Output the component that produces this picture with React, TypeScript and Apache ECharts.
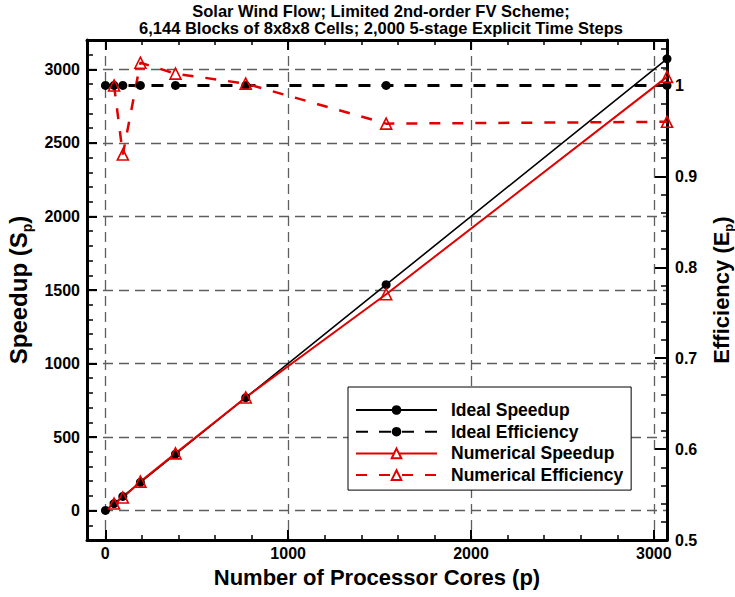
import React, { useEffect, useRef } from "react";
import * as echarts from "echarts";

const FONT = '"Liberation Sans", Arial, Helvetica, sans-serif';

// Processor counts and measured results
const cores = [1, 48, 96, 192, 384, 768, 1536, 3072];
const idealSpeedup = [1, 48, 96, 192, 384, 768, 1536, 3072];
const idealEfficiency = [1, 1, 1, 1, 1, 1, 1, 1];
const numericalCores = [48, 96, 192, 384, 768, 1536, 3072];
const numericalSpeedup = [48, 88.7, 196.8, 389, 769.5, 1471, 2949];
const numericalEfficiency = [1.0, 0.924, 1.025, 1.013, 1.002, 0.958, 0.96];

const titleLines = [
  "Solar Wind Flow; Limited 2nd-order FV Scheme;",
  "6,144 Blocks of 8x8x8 Cells; 2,000 5-stage Explicit Time Steps",
];

// Tick positions
const steps = (from: number, to: number, step: number) => {
  const out: number[] = [];
  for (let v = from; v <= to + step * 1e-6; v += step) out.push(Math.round(v * 1000) / 1000);
  return out;
};
const xMajorTicks = [0, 1000, 2000, 3000];
const xMinorTicks = steps(0, 3000, 200);
const speedupMajorTicks = [0, 500, 1000, 1500, 2000, 2500, 3000];
const speedupMinorTicks = steps(-100, 3100, 100);
const efficiencyMajorTicks = [0.5, 0.6, 0.7, 0.8, 0.9, 1];
const efficiencyMinorTicks = steps(0.52, 1.04, 0.02);

const X_MIN = -100;
const X_MAX = 3072;
const S_MIN = -200;
const S_MAX = 3200;
const E_MIN = 0.5;
const E_MAX = 1.05;

const plain = (v: number) => String(Math.round(v * 1000) / 1000);

const labelStyle = {
  color: "#000",
  fontSize: 16,
  fontWeight: "bold" as const,
  fontFamily: FONT,
  formatter: plain,
};

const gridLine = {
  show: true,
  lineStyle: { color: "#5e5e5e", width: 1.3, type: [10, 6] as number[] },
};

const frameLine = { show: true, onZero: false, lineStyle: { color: "#000", width: 3 } };
const noLine = { show: false, onZero: false };

const majorTick = (values: number[], len = 10) => ({
  show: true,
  inside: true,
  length: len,
  customValues: values,
  lineStyle: { color: "#000", width: 2 },
});
const minorTick = (values: number[], len = 6) => ({
  show: true,
  inside: true,
  length: len,
  customValues: values,
  lineStyle: { color: "#000", width: 1.5 },
});

// Axis title with a lowered subscript
const subscriptTitle = (size: number, subSize: number, drop: number) => ({
  rich: {
    a: {
      color: "#000",
      fontSize: size,
      fontWeight: "bold",
      fontFamily: FONT,
      lineHeight: size,
      verticalAlign: "top",
    },
    b: {
      color: "#000",
      fontSize: subSize,
      fontWeight: "bold",
      fontFamily: FONT,
      lineHeight: size + drop,
      verticalAlign: "bottom",
    },
  },
});

export default function App() {
  const ref = useRef<HTMLDivElement>(null);

  useEffect(() => {
    document.body.style.margin = "0";
    if (!ref.current) return;
    const chart = echarts.init(ref.current, undefined, { renderer: "svg" });

    const xBase = { type: "value" as const, min: X_MIN, max: X_MAX };
    const sBase = { type: "value" as const, min: S_MIN, max: S_MAX };
    const eBase = { type: "value" as const, min: E_MIN, max: E_MAX };

    const option: any = {
      animation: false,
      backgroundColor: "#fff",
      grid: {
        left: 87,
        right: 68,
        top: 40,
        bottom: 57,
        show: false,
        containLabel: false,
        outerBoundsMode: "none",
      },
      graphic: titleLines.map((line, i) => ({
        type: "text",
        x: 381,
        y: 3 + i * 17,
        style: {
          text: line,
          fontSize: 16.5,
          fontWeight: "bold",
          fontFamily: FONT,
          lineHeight: 16.5,
          align: "center",
          fill: "#000",
        },
      })),
      legend: {
        orient: "vertical",
        left: 348,
        top: 387,
        itemWidth: 81,
        itemHeight: 12,
        itemGap: 3.7,
        padding: [14, 8, 6, 7],
        borderColor: "#000",
        borderWidth: 1,
        backgroundColor: "#fff",
        selectedMode: false,
        textStyle: {
          color: "#000",
          fontSize: 17.5,
          fontWeight: "bold",
          fontFamily: FONT,
          lineHeight: 14,
          padding: [0, 0, 0, 9],
        },
        data: [
          "Ideal Speedup",
          "Ideal Efficiency",
          { name: "Numerical Speedup", itemStyle: { color: "#fff" } },
          { name: "Numerical Efficiency", itemStyle: { color: "#fff" } },
        ],
      },
      xAxis: [
        {
          ...xBase,
          position: "bottom",
          splitNumber: 3,
          axisLine: frameLine,
          axisTick: majorTick(xMajorTicks),
          axisLabel: { ...labelStyle, show: true, margin: 5, customValues: xMajorTicks },
          splitLine: gridLine,
          name: "Number of Processor Cores (p)",
          nameLocation: "middle",
          nameGap: 26,
          nameTextStyle: { color: "#000", fontSize: 22, fontWeight: "bold", fontFamily: FONT },
        },
        {
          ...xBase,
          position: "bottom",
          axisLine: noLine,
          axisTick: minorTick(xMinorTicks, 5),
          axisLabel: { show: false },
          splitLine: { show: false },
        },
        {
          ...xBase,
          position: "top",
          axisLine: frameLine,
          axisTick: majorTick(xMajorTicks),
          axisLabel: { show: false },
          splitLine: { show: false },
        },
        {
          ...xBase,
          position: "top",
          axisLine: noLine,
          axisTick: minorTick(xMinorTicks, 5),
          axisLabel: { show: false },
          splitLine: { show: false },
        },
      ],
      yAxis: [
        {
          ...sBase,
          position: "left",
          splitNumber: 7,
          axisLine: frameLine,
          axisTick: majorTick(speedupMajorTicks),
          axisLabel: { ...labelStyle, show: true, margin: 7, customValues: speedupMajorTicks },
          splitLine: gridLine,
          name: "{a|Speedup (S}{b|p}{a|)}",
          nameLocation: "middle",
          nameGap: 47,
          nameTextStyle: subscriptTitle(24, 14, 3),
        },
        {
          ...sBase,
          position: "left",
          axisLine: noLine,
          axisTick: minorTick(speedupMinorTicks),
          axisLabel: { show: false },
          splitLine: { show: false },
        },
        {
          ...eBase,
          position: "right",
          interval: 0.1,
          axisLine: frameLine,
          axisTick: majorTick(efficiencyMajorTicks, 12),
          axisLabel: { ...labelStyle, show: true, margin: 8, customValues: efficiencyMajorTicks },
          splitLine: { show: false },
          name: "{a|Efficiency (E}{b|p}{a|)}",
          nameLocation: "middle",
          nameGap: 43,
          nameTextStyle: subscriptTitle(22, 13, 3),
        },
        {
          ...eBase,
          position: "right",
          axisLine: noLine,
          axisTick: minorTick(efficiencyMinorTicks),
          axisLabel: { show: false },
          splitLine: { show: false },
        },
      ],
      series: [
        {
          name: "Ideal Speedup",
          type: "line",
          xAxisIndex: 0,
          yAxisIndex: 0,
          clip: false,
          data: cores.map((c, i) => [c, idealSpeedup[i]]),
          symbol: "circle",
          symbolSize: 9,
          lineStyle: { color: "#000", width: 1.6 },
          itemStyle: { color: "#000" },
        },
        {
          name: "Ideal Efficiency",
          type: "line",
          xAxisIndex: 0,
          yAxisIndex: 2,
          clip: false,
          data: cores.map((c, i) => [c, idealEfficiency[i]]),
          symbol: "circle",
          symbolSize: 9,
          lineStyle: { color: "#000", width: 3, type: [12, 11] },
          itemStyle: { color: "#000" },
        },
        {
          name: "Numerical Speedup",
          type: "line",
          xAxisIndex: 0,
          yAxisIndex: 0,
          clip: false,
          data: numericalCores.map((c, i) => [c, numericalSpeedup[i]]),
          symbol: "triangle",
          symbolSize: 11,
          lineStyle: { color: "#e00000", width: 2 },
          itemStyle: { color: "rgba(0,0,0,0)", borderColor: "#e00000", borderWidth: 1.6 },
        },
        {
          name: "Numerical Efficiency",
          type: "line",
          xAxisIndex: 0,
          yAxisIndex: 2,
          clip: false,
          data: numericalCores.map((c, i) => [c, numericalEfficiency[i]]),
          symbol: "triangle",
          symbolSize: 11,
          lineStyle: { color: "#e00000", width: 2.5, type: [11, 12] },
          itemStyle: { color: "rgba(0,0,0,0)", borderColor: "#e00000", borderWidth: 1.6 },
        },
      ],
    };

    chart.setOption(option);
    return () => chart.dispose();
  }, []);

  return <div ref={ref} style={{ width: 735, height: 597 }} />;
}
